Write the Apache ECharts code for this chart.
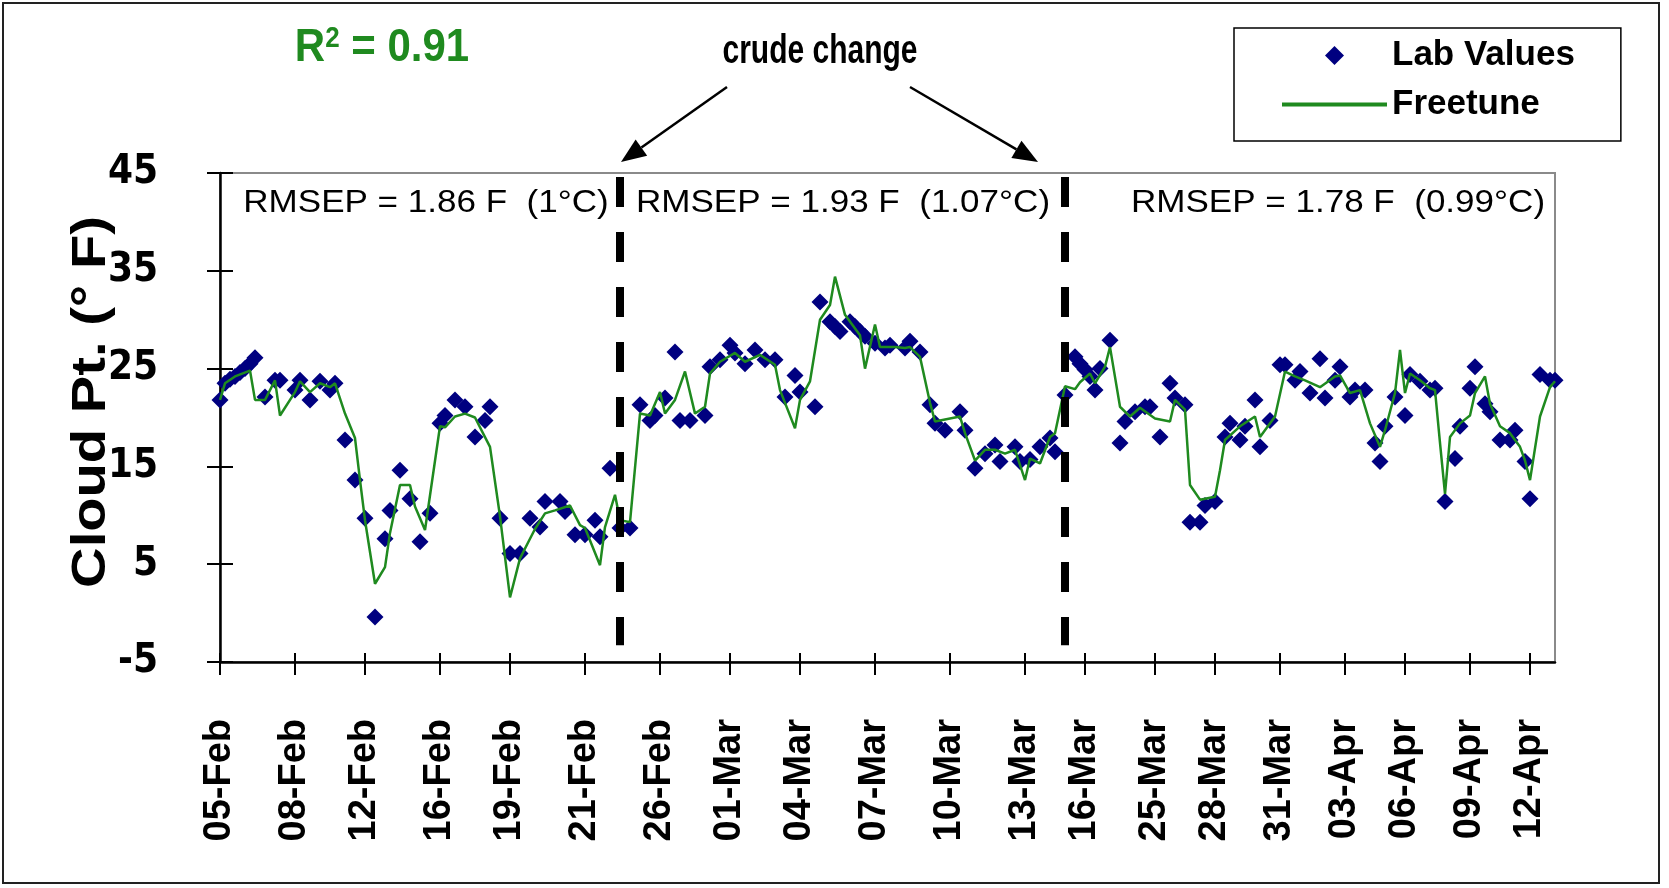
<!DOCTYPE html>
<html>
<head>
<meta charset="utf-8">
<title>Cloud Pt. - Lab Values vs Freetune</title>
<script src="https://cdn.jsdelivr.net/npm/echarts@6/dist/echarts.min.js"></script>
<style>
  html, body { margin: 0; padding: 0; background: #fff; }
  #main { width: 1669px; height: 888px; }
</style>
</head>
<body>
<div id="main"></div>
<script>
// samples along the category axis, the dates only label some of them
var sampleCount = 268;
var tickIdx = [0, 15, 29, 44, 58, 73, 88, 102, 116, 131, 146, 161, 173, 187, 199, 212, 225, 237, 250, 262];
var tickLabels = ['05-Feb', '08-Feb', '12-Feb', '16-Feb', '19-Feb', '21-Feb', '26-Feb', '01-Mar', '04-Mar', '07-Mar',
                  '10-Mar', '13-Mar', '16-Mar', '25-Mar', '28-Mar', '31-Mar', '03-Apr', '06-Apr', '09-Apr', '12-Apr'];

// lab values (diamonds)
var labIdx = [0, 1, 2, 3, 4, 5, 6, 7, 9, 11, 12, 15, 16, 18, 20, 22, 23, 25, 27, 29,
              31, 33, 34, 36, 38, 40, 42, 44, 45, 47, 49, 51, 53, 54, 56, 58, 60, 62, 64, 65,
              68, 69, 71, 73, 75, 76, 78, 80, 82, 84, 86, 87, 89, 91, 92, 94, 97, 98, 100, 102,
              103, 105, 107, 109, 111, 113, 115, 116, 119, 120, 122, 123, 124, 126, 127, 128, 129, 131, 133, 134,
              137, 138, 140, 142, 143, 145, 148, 149, 151, 153, 155, 156, 159, 160, 162, 164, 166, 167, 169, 171,
              172, 173, 174, 175, 176, 178, 180, 181, 183, 185, 186, 188, 190, 191, 193, 194, 196, 197, 199, 201,
              202, 204, 205, 207, 208, 210, 212, 213, 215, 216, 218, 220, 221, 223, 224, 226, 227, 229, 231, 232,
              233, 235, 237, 238, 240, 242, 243, 245, 247, 248, 250, 251, 253, 254, 256, 258, 259, 261, 262, 264,
              266, 267];
var labVal = [21.8, 23.5, 23.9, 24.2, 24.6, 25.0, 25.5, 26.1, 22.1, 23.8, 23.8, 22.8, 23.8, 21.8, 23.7, 22.8, 23.5, 17.7, 13.6, 9.7,
              -0.4, 7.6, 10.5, 14.6, 11.7, 7.3, 10.2, 19.4, 20.2, 21.8, 21.1, 18.0, 19.7, 21.1, 9.7, 6.1, 6.1, 9.7, 8.8, 11.4,
              11.4, 10.4, 8.0, 8.0, 9.5, 7.8, 14.8, 8.7, 8.7, 21.3, 19.7, 20.2, 22.0, 26.7, 19.7, 19.7, 20.2, 25.2, 25.9, 27.4,
              26.6, 25.5, 26.9, 25.9, 25.9, 22.1, 24.3, 22.6, 21.1, 31.8, 29.8, 29.3, 28.8, 29.8, 29.3, 28.8, 28.3, 27.6, 27.1, 27.4,
              27.1, 27.8, 26.7, 21.3, 19.4, 18.7, 20.6, 18.7, 14.8, 16.3, 17.2, 15.5, 17.0, 15.5, 15.7, 17.0, 17.9, 16.5, 22.3, 26.2,
              25.5, 24.9, 24.2, 22.8, 25.0, 27.9, 17.4, 19.6, 20.6, 21.1, 21.1, 18.0, 23.5, 22.0, 21.3, 9.3, 9.3, 11.0, 11.4, 18.0,
              19.4, 17.7, 19.1, 21.8, 17.0, 19.7, 25.4, 25.4, 23.8, 24.7, 22.5, 26.0, 22.0, 23.8, 25.2, 22.1, 22.8, 22.8, 17.4, 15.5,
              19.1, 22.1, 20.2, 24.4, 23.7, 22.8, 23.0, 11.4, 15.8, 19.1, 23.0, 25.2, 21.4, 20.6, 17.7, 17.7, 18.7, 15.5, 11.7, 24.4,
              23.8, 23.8];

// Freetune prediction (line vertices)
var fitIdx = [0, 1, 3, 6, 7, 9, 11, 12, 15, 16, 18, 20, 22, 23, 25, 27, 28, 29, 31, 33,
              34, 36, 38, 39, 41, 44, 45, 47, 49, 51, 53, 54, 56, 58, 60, 62, 63, 65, 67, 70,
              72, 73, 76, 77, 79, 80, 82, 84, 86, 88, 89, 91, 93, 95, 97, 98, 100, 103, 105, 108,
              111, 112, 115, 116, 118, 120, 122, 123, 125, 128, 129, 131, 132, 135, 137, 138, 140, 142, 143, 146,
              148, 149, 151, 153, 155, 157, 159, 161, 162, 164, 166, 167, 169, 171, 172, 174, 175, 177, 178, 180,
              182, 184, 187, 190, 191, 193, 194, 196, 199, 200, 201, 204, 207, 208, 211, 213, 215, 217, 220, 223,
              224, 226, 228, 230, 232, 233, 235, 236, 237, 238, 240, 242, 243, 244, 245, 246, 248, 250, 251, 253,
              254, 256, 258, 260, 261, 262, 264, 266, 267];
var fitVal = [21.8, 23.5, 24.2, 24.8, 21.8, 21.8, 23.8, 20.2, 22.6, 23.7, 22.6, 23.5, 23.1, 23.5, 20.4, 17.9, 13.6, 9.5, 3.0, 4.7,
              8.2, 13.1, 13.1, 10.9, 8.5, 19.1, 19.0, 20.1, 20.4, 20.0, 18.0, 17.0, 9.9, 1.6, 5.6, 7.6, 8.6, 10.2, 10.5, 11.0,
              9.0, 8.7, 4.9, 8.8, 12.1, 9.5, 9.3, 20.4, 20.2, 22.6, 20.4, 21.8, 24.7, 20.4, 21.1, 24.5, 25.7, 26.6, 25.7, 26.4,
              25.4, 22.8, 18.9, 21.8, 23.7, 30.0, 31.5, 34.4, 30.5, 28.4, 25.0, 29.5, 27.2, 27.2, 27.1, 27.2, 26.2, 21.5, 19.6, 19.9,
              20.1, 18.4, 15.6, 16.7, 16.7, 16.3, 16.7, 13.6, 15.8, 15.3, 18.0, 18.4, 23.2, 22.9, 23.6, 24.5, 23.5, 25.2, 27.2, 21.1,
              20.1, 21.0, 19.9, 19.6, 21.8, 20.8, 13.1, 11.6, 11.9, 14.6, 17.7, 19.1, 20.1, 18.0, 20.1, 24.7, 24.2, 23.8, 23.1, 24.2,
              24.3, 22.5, 22.8, 19.4, 17.0, 18.7, 22.5, 26.9, 22.5, 24.5, 23.8, 23.0, 22.8, 17.4, 12.2, 18.0, 19.4, 20.2, 22.5, 24.2,
              21.4, 19.1, 18.4, 17.0, 15.6, 13.6, 20.1, 23.1, 23.7];

// where the crude was changed, and the span of the dashed markers
var crudeChangeIdx = [80, 169];
var crudeLineSpan = [44.6, -3.3];
var rmsepTexts = ['RMSEP = 1.86 F  (1\u00B0C)', 'RMSEP = 1.93 F  (1.07\u00B0C)', 'RMSEP = 1.78 F  (0.99\u00B0C)'];

var FONT = "'Liberation Sans', Arial, sans-serif";
var NARROW = "'DejaVu Sans', 'Liberation Sans', Arial, sans-serif";

var categories = [];
for (var i = 0; i < sampleCount; i++) categories.push('');
tickIdx.forEach(function (k, j) { categories[k] = tickLabels[j]; });
var isTick = function (index, value) { return value !== ''; };

var labData = labIdx.map(function (x, i) { return [x, labVal[i]]; });
var fitData = fitIdx.map(function (x, i) { return [x, fitVal[i]]; });

function arrow(x1, y1, x2, y2) {
    var a = Math.atan2(y2 - y1, x2 - x1);
    var len = 25, half = 10;
    var bx = x2 - len * Math.cos(a), by = y2 - len * Math.sin(a);
    var px = -Math.sin(a) * half, py = Math.cos(a) * half;
    return [
        { type: 'line', z: 50, shape: { x1: x1, y1: y1, x2: bx, y2: by }, style: { stroke: '#000', lineWidth: 2.5 } },
        { type: 'polygon', z: 50, shape: { points: [[x2, y2], [bx + px, by + py], [bx - px, by - py]] }, style: { fill: '#000' } }
    ];
}

var chart = echarts.init(document.getElementById('main'));

var graphics = [
    { type: 'rect', z: 0, shape: { x: 3, y: 3, width: 1656, height: 880 }, style: { fill: 'none', stroke: '#222', lineWidth: 2 } },
    {
        type: 'text', z: 50, x: 382, y: 48, scaleY: 1.1,
        style: {
            text: '{r|R}{s|2}{r| = 0.91}', align: 'center', verticalAlign: 'middle',
            rich: {
                r: { fontSize: 42, fontWeight: 'bold', fontFamily: FONT, fill: '#1F8A1F' },
                s: { fontSize: 26, fontWeight: 'bold', fontFamily: FONT, fill: '#1F8A1F', verticalAlign: 'top', lineHeight: 42 }
            }
        }
    },
    {
        type: 'text', z: 50, x: 820, y: 52, scaleY: 1.35,
        style: { text: 'crude change', fontSize: 30, fontWeight: 'bold', fontFamily: FONT, fill: '#000', align: 'center', verticalAlign: 'middle' }
    },
    {
        // y axis title, stretched along its length like the original
        type: 'text', z: 50, x: 92, y: 402, rotation: Math.PI / 2, scaleX: 1.17,
        style: { text: 'Cloud Pt. (\u00B0 F)', fontSize: 48, fontWeight: 'bold', fontFamily: FONT, fill: '#000', align: 'center', verticalAlign: 'middle' }
    }
];
graphics = graphics.concat(arrow(727, 87, 621, 162), arrow(910, 87, 1038, 162));
[426, 843, 1338].forEach(function (cx, j) {
    graphics.push({
        type: 'text', z: 50, x: cx, y: 203, scaleX: 1.13,
        style: { text: rmsepTexts[j], fontSize: 31, fontFamily: FONT, fill: '#000', align: 'center', verticalAlign: 'middle' }
    });
});

var option = {
    animation: false,
    backgroundColor: '#fff',
    grid: { left: 220, right: 114, top: 173, bottom: 226, show: true, borderColor: '#8a8a8a', borderWidth: 2 },
    legend: {
        orient: 'vertical', left: 1234, top: 28,
        padding: [10, 46, 19, 48], itemGap: 14,
        itemWidth: 105, itemHeight: 19, symbolKeepAspect: true,
        borderColor: '#000', borderWidth: 1.5, backgroundColor: '#fff',
        textStyle: { fontSize: 35, fontWeight: 'bold', fontFamily: FONT, color: '#000' },
        data: [
            { name: 'Lab Values', icon: 'path://M0,-1L1,0L0,1L-1,0Z' },
            { name: 'Freetune', icon: 'path://M0,0L100,0L100,4L0,4Z' }
        ]
    },
    xAxis: [{
        type: 'category', data: categories, boundaryGap: false,
        axisLine: { onZero: false, lineStyle: { color: '#000', width: 2.5 } },
        axisTick: { interval: isTick, length: 13, lineStyle: { color: '#000', width: 2 } },
        axisLabel: { interval: isTick, rotate: 90, margin: 57, fontSize: 38, fontWeight: 'bold', fontFamily: FONT, color: '#000' },
        splitLine: { show: false }
    }, {
        // inner half of the crossing ticks
        type: 'category', data: categories, boundaryGap: false, position: 'bottom',
        axisLine: { show: false, onZero: false },
        axisTick: { interval: isTick, inside: true, length: 9, lineStyle: { color: '#000', width: 2 } },
        axisLabel: { show: false }, splitLine: { show: false }
    }],
    yAxis: [{
        type: 'value', min: -5, max: 45, interval: 10,
        axisLine: { show: true, lineStyle: { color: '#000', width: 2.5 } },
        axisTick: { show: true, length: 13, lineStyle: { color: '#000', width: 2 } },
        axisLabel: { margin: 62, fontSize: 40, fontWeight: 'bold condensed', fontFamily: NARROW, color: '#000' },
        splitLine: { show: false }
    }, {
        type: 'value', min: -5, max: 45, interval: 10, position: 'left',
        axisLine: { show: false },
        axisTick: { show: true, inside: true, length: 13, lineStyle: { color: '#000', width: 2 } },
        axisLabel: { show: false }, splitLine: { show: false }
    }],
    series: [{
        name: 'Lab Values', type: 'scatter', data: labData,
        symbol: 'diamond', symbolSize: 17, clip: false,
        itemStyle: { color: '#000080', opacity: 1 }, z: 2
    }, {
        name: 'Freetune', type: 'line', data: fitData,
        symbol: 'none', lineStyle: { color: '#1F8A1F', width: 2.5 }, itemStyle: { color: '#1F8A1F' }, z: 3,
        markLine: {
            silent: true, symbol: 'none', label: { show: false },
            lineStyle: { color: '#000', width: 8, type: [30, 25] },
            data: crudeChangeIdx.map(function (k) {
                return [{ coord: [k, crudeLineSpan[0]] }, { coord: [k, crudeLineSpan[1]] }];
            })
        }
    }],
    graphic: graphics
};

chart.setOption(option);
</script>
</body>
</html>
